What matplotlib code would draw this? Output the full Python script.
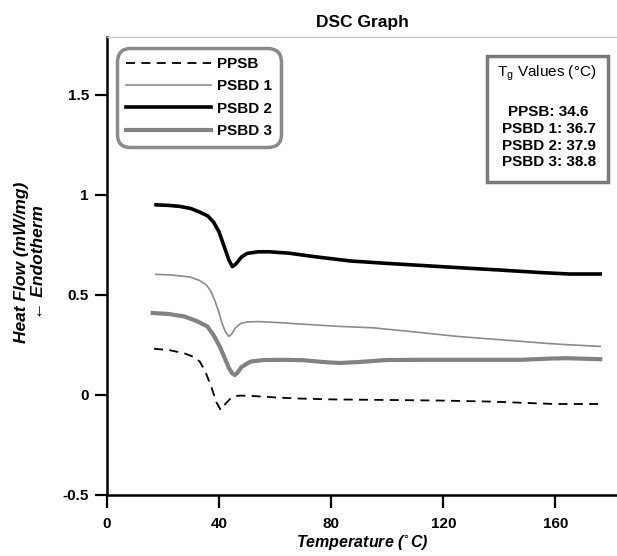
import matplotlib
matplotlib.use('Agg')
import matplotlib.pyplot as plt
from matplotlib.patches import Rectangle

plt.rcParams['font.family'] = ['Liberation Sans', 'DejaVu Sans']

# data (temperature in C, heat flow in mW/mg)
ppsb_t = [16.8, 22, 27.5, 31, 33.1, 35, 37.2, 39, 40.6, 42.2, 44.1, 46, 47.7, 52, 60, 67,
          80, 101, 120, 137, 150, 160, 176]
ppsb_y = [0.231, 0.225, 0.209, 0.19, 0.167, 0.12, 0.042, -0.035, -0.075, -0.045, -0.017,
          -0.005, -0.003, -0.005, -0.012, -0.017, -0.022, -0.025, -0.028, -0.033, -0.04,
          -0.045, -0.045]

psbd1_t = [17.4, 23, 29.6, 33, 35.5, 37, 38.4, 39.8, 41, 42.3, 43.5, 44.5, 45.8, 47.7, 50,
           54, 60, 69, 83, 95, 110, 125, 137, 148, 157, 165, 176]
psbd1_y = [0.603, 0.60, 0.59, 0.573, 0.55, 0.52, 0.475, 0.42, 0.36, 0.315, 0.293, 0.305,
           0.335, 0.358, 0.365, 0.367, 0.363, 0.355, 0.343, 0.336, 0.315, 0.293, 0.28,
           0.268, 0.258, 0.251, 0.243]

psbd2_t = [17.5, 22, 26, 30, 33, 36, 38, 40, 42, 43.5, 44.7, 46, 48, 50, 54, 58, 65, 75,
           87, 100, 112, 125, 140, 155, 165, 176]
psbd2_y = [0.951, 0.948, 0.943, 0.932, 0.915, 0.895, 0.865, 0.815, 0.735, 0.675, 0.642,
           0.655, 0.69, 0.708, 0.716, 0.716, 0.709, 0.69, 0.67, 0.658, 0.648, 0.637, 0.625,
           0.612, 0.605, 0.605]

psbd3_t = [16.3, 22, 27.5, 32, 35.8, 38, 40.2, 42, 43.5, 44.7, 45.6, 46.5, 48, 51.2, 56,
           63, 70, 77, 83, 90, 100, 115, 130, 148, 158, 164, 176]
psbd3_y = [0.41, 0.405, 0.393, 0.37, 0.343, 0.30, 0.243, 0.185, 0.135, 0.108, 0.10, 0.11,
           0.14, 0.167, 0.175, 0.176, 0.174, 0.165, 0.16, 0.165, 0.175, 0.176, 0.176,
           0.176, 0.182, 0.184, 0.179]

tg_names = ['PPSB', 'PSBD 1', 'PSBD 2', 'PSBD 3']
tg_values = [34.6, 36.7, 37.9, 38.8]

x_ticks = [0, 40, 80, 120, 160]
y_ticks = [-0.5, 0, 0.5, 1, 1.5]

fig = plt.figure(figsize=(6.17, 5.56), dpi=100)
ax = fig.add_axes([107 / 617, 61 / 556, 510 / 617, 458 / 556])

ax.plot(ppsb_t, ppsb_y, color='black', lw=1.3, ls=(0, (5, 3.5)), label='PPSB')
ax.plot(psbd1_t, psbd1_y, color='#8c8c8c', lw=1.2, label='PSBD 1')
ax.plot(psbd2_t, psbd2_y, color='black', lw=2.6, label='PSBD 2')
ax.plot(psbd3_t, psbd3_y, color='#828282', lw=3.0, label='PSBD 3')

ax.set_xlim(0, 182)
ax.set_ylim(-0.5, 1.79)
ax.set_xticks(x_ticks)
ax.set_yticks(y_ticks)
ax.set_yticklabels(['%g' % v for v in y_ticks])

ax.spines['right'].set_visible(False)
ax.spines['top'].set_color('#c8c8c8')
ax.spines['top'].set_linewidth(1.0)
ax.spines['left'].set_linewidth(1.8)
ax.spines['bottom'].set_linewidth(1.8)
ax.tick_params(axis='both', direction='out', length=9, width=1.6, labelsize=11)
ax.tick_params(axis='x', pad=7)
ax.tick_params(axis='y', pad=4)
for lab in ax.get_xticklabels() + ax.get_yticklabels():
    lab.set_fontweight('bold')

ax.set_title('DSC Graph', fontsize=12.5, fontweight='bold', pad=7)
ax.set_xlabel('Temperature ($^{\\circ}$C)', fontsize=11.5, fontweight='bold',
              fontstyle='italic', labelpad=1)
fig.text(30 / 617, 1 - 262 / 556, 'Heat Flow (mW/mg)\n\u2190 Endotherm', rotation=90,
         ha='center', va='center', multialignment='center', fontsize=12.5,
         fontweight='bold', fontstyle='italic', linespacing=1.1)

leg = ax.legend(loc='upper left', bbox_to_anchor=(0.004, 0.993),
                prop={'weight': 'bold', 'size': 11}, handlelength=5.6,
                handletextpad=0.35, labelspacing=0.55, borderpad=0.6,
                fancybox=True, framealpha=1)
leg.get_frame().set_edgecolor('#8a8a8a')
leg.get_frame().set_linewidth(2.5)
leg.get_frame().set_boxstyle('round', pad=0.0, rounding_size=0.9)

# Tg values box
ax.add_patch(Rectangle((0.745, 0.683), 0.237, 0.275, transform=ax.transAxes,
                       fill=False, edgecolor='#7a7a7a', lw=2.5))
ax.text(0.862, 0.921, 'T$_\\mathregular{g}$ Values (\u00b0C)', transform=ax.transAxes,
        ha='center', va='center', fontsize=11)
for i, (name, val) in enumerate(zip(tg_names, tg_values)):
    ax.text(0.866, 0.837 - i * 0.037, '%s: %.1f' % (name, val), transform=ax.transAxes,
            ha='center', va='center', fontsize=11, fontweight='bold')

fig.savefig('out.png', dpi=100)
